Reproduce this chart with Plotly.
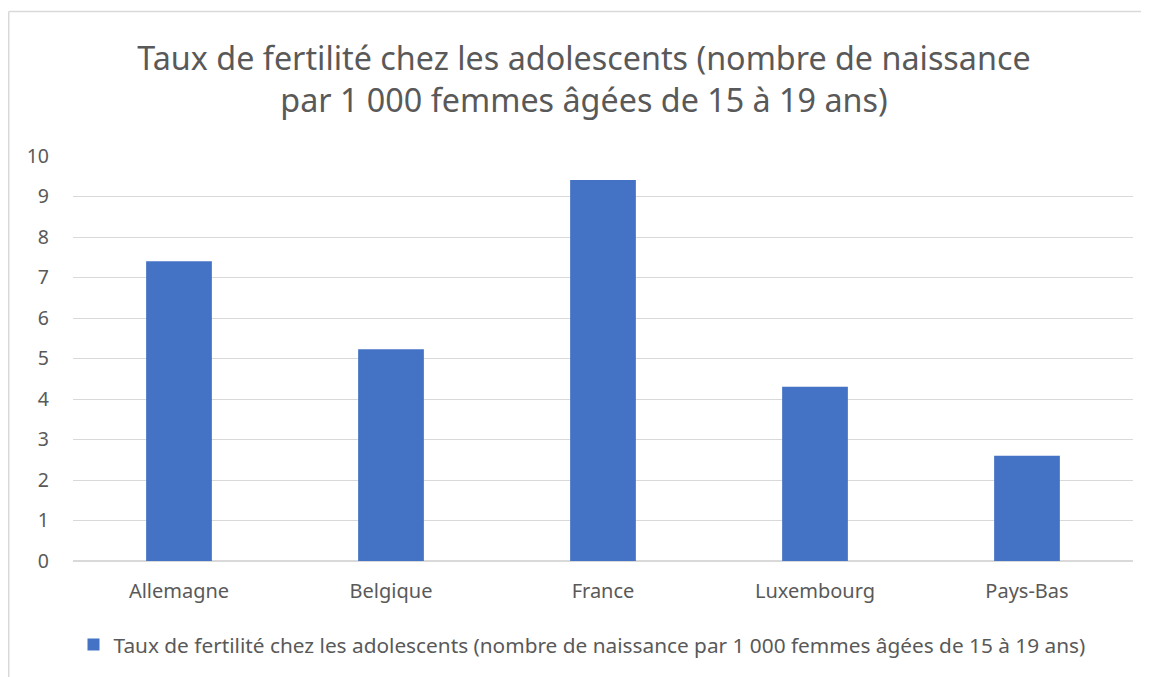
import plotly.graph_objects as go

# Données
pays = ['Allemagne', 'Belgique', 'France', 'Luxembourg', 'Pays-Bas']
taux = [7.4, 5.23, 9.41, 4.3, 2.6]
serie = 'Taux de fertilité chez les adolescents (nombre de naissance par 1 000 femmes âgées de 15 à 19 ans)'
titre = 'Taux de fertilité chez les adolescents (nombre de naissance<br>par 1 000 femmes âgées de 15 à 19 ans)'

# la page ajoute une marge de 8 px autour du graphique
W, H = 1141, 669
L, R, T, B = 65, 16, 148, 116
pw, ph = W - L - R, H - T - B

def px_x(x):
    return (x - L) / pw

def px_y(y):
    return (H - B - y) / ph

texte = '#595959'
police = 'Noto Sans'

fig = go.Figure()
fig.add_trace(go.Bar(
    x=pays, y=taux, name=serie,
    marker=dict(color='#4472C4', line=dict(width=0)),
))

fig.update_layout(
    width=W, height=H,
    margin=dict(l=L, r=R, t=T, b=B),
    paper_bgcolor='white', plot_bgcolor='white',
    font=dict(family=police, color=texte, size=16),
    bargap=0.69,
    showlegend=True,
    title=dict(text=titre, x=576 / W, xanchor='center', y=1 - 62 / H, yanchor='middle',
               font=dict(size=32.3, color=texte, family=police)),
    legend=dict(orientation='h', x=px_x(574), xanchor='center', y=px_y(637), yanchor='middle',
                font=dict(size=20.8, color=texte), itemwidth=30),
    xaxis=dict(showgrid=False, showline=False, ticks='', ticklabelstandoff=16,
               tickfont=dict(size=20)),
    yaxis=dict(range=[0, 10], dtick=1, showgrid=True, gridcolor='#d9d9d9', gridwidth=1,
               zeroline=True, zerolinecolor='#d9d9d9', showline=False, ticks='',
               ticklabelstandoff=23, tickfont=dict(size=19.5)),
    shapes=[
        dict(type='line', xref='paper', yref='paper', x0=px_x(0.75), x1=px_x(W), y0=px_y(3.5), y1=px_y(3.5),
             line=dict(color='#d9d9d9', width=1.5)),
        dict(type='line', xref='paper', yref='paper', x0=px_x(0.75), x1=px_x(0.75), y0=px_y(3.5), y1=px_y(H),
             line=dict(color='#d9d9d9', width=1.5)),
    ],
)

fig.write_html('out.html')
